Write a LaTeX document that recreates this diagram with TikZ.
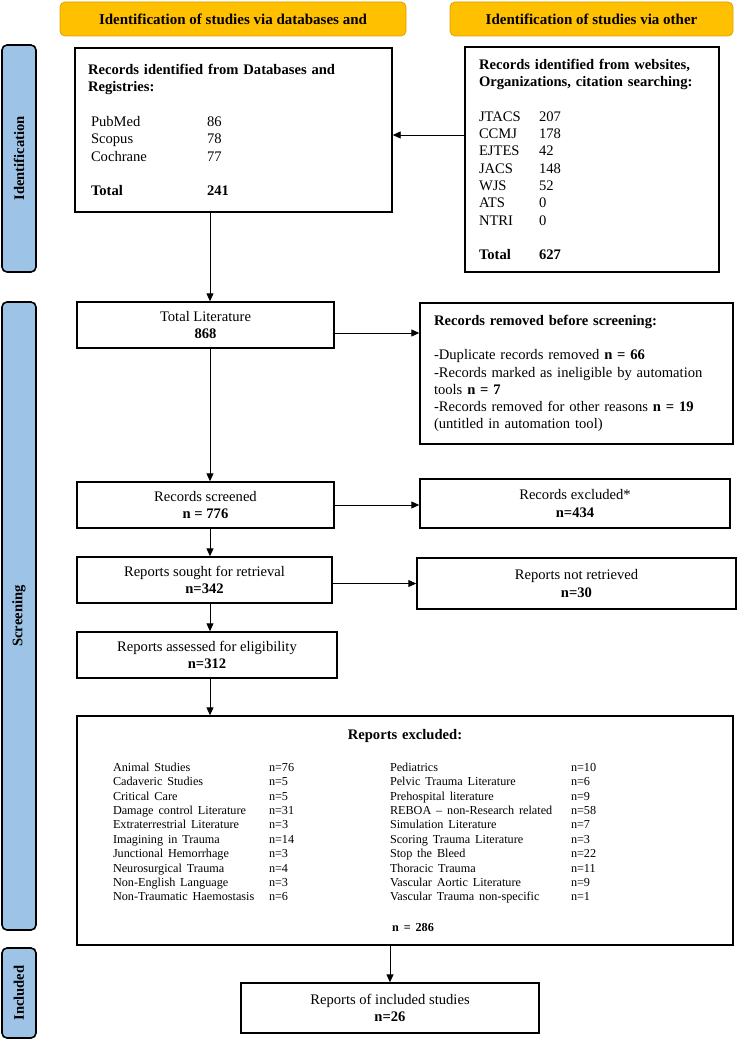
\documentclass[tikz,border=0pt]{standalone}
\usepackage{fontspec}
\setmainfont{Liberation Serif}
\usetikzlibrary{arrows.meta, positioning}
\definecolor{headgold}{HTML}{FFC000}
\definecolor{headedge}{HTML}{D9A300}
\definecolor{barblue}{HTML}{9DC3E6}
\newcommand{\boxfont}{\fontsize{14.6}{17.3}\selectfont}
\newcommand{\headfont}{\fontsize{15}{17.3}\selectfont}
\newcommand{\listfont}{\fontsize{12.2}{14.4}\selectfont}
\newcommand{\exrow}[4]{\makebox[156pt][l]{#1}\makebox[121pt][l]{#2}\makebox[181pt][l]{#3}#4}

\begin{document}
\begin{tikzpicture}[
        x=1pt, y=-1pt, >={Triangle[length=8pt,width=7pt]},
        stage/.style={draw=headedge, line width=0.8pt, fill=headgold, rounded corners=5pt,
                      font=\headfont\bfseries, inner sep=0pt},
        phase/.style={draw=black, line width=1.6pt, fill=barblue, rounded corners=5pt,
                      minimum width=34pt, inner sep=0pt},
        phasetext/.style={rotate=90, font=\boxfont\bfseries},
        flowbox/.style={draw, line width=1.4pt, font=\boxfont, align=center, inner sep=0pt},
        listbox/.style={draw, line width=1.4pt, font=\boxfont, align=left, inner ysep=0pt},
        link/.style={line width=0.9pt}
        ]
        \useasboundingbox (0,0) rectangle (738,1040);

        % headers
        \node[stage, minimum width=346pt, minimum height=34pt] (hdb)  at (233,19)   {Identification of studies via databases and};
        \node[stage, minimum width=283pt, minimum height=34pt] (hoth) at (591.5,19) {Identification of studies via other};

        % phase bars
        \node[phase, minimum height=227pt] (pid)  at (19,158.5) {};
        \node[phasetext] at (pid)  {Identification};
        \node[phase, minimum height=628pt] (pscr) at (19,616)   {};
        \node[phasetext] at (pscr) {Screening};
        \node[phase, minimum height=90pt]  (pinc) at (19,993)   {};
        \node[phasetext] at (pinc) {Included};

        % identification
        \node[listbox, minimum width=317pt, minimum height=164pt, inner xsep=13pt, text width=291pt] (dbrec) at (233.5,130)
            {\textbf{Records identified from Databases and}\\ \textbf{Registries:}\\[17.3pt]
             \hspace*{3pt}\makebox[116pt][l]{PubMed}86\\
             \hspace*{3pt}\makebox[116pt][l]{Scopus}78\\
             \hspace*{3pt}\makebox[116pt][l]{Cochrane}77\\[17.3pt]
             \hspace*{3pt}\makebox[116pt][l]{\textbf{Total}}\textbf{241}};
        \node[listbox, minimum width=254pt, minimum height=225pt, inner xsep=14pt, text width=226pt] (webrec) at (592,159.5)
            {\textbf{Records identified from websites,}\\ \textbf{Organizations, citation searching:}\\[17.3pt]
             \makebox[60pt][l]{JTACS}207\\
             \makebox[60pt][l]{CCMJ}178\\
             \makebox[60pt][l]{EJTES}42\\
             \makebox[60pt][l]{JACS}148\\
             \makebox[60pt][l]{WJS}52\\
             \makebox[60pt][l]{ATS}0\\
             \makebox[60pt][l]{NTRI}0\\[17.3pt]
             \makebox[60pt][l]{\textbf{Total}}\textbf{627}};

        % screening
        \node[flowbox, minimum width=257pt, minimum height=46pt] (totlit) at (205.5,325) {Total Literature\\ \textbf{868}};
        \node[listbox, minimum width=313pt, minimum height=141pt, inner xsep=14pt, text width=285pt] (removed) at (576.5,373.5)
            {\textbf{Records removed before screening:}\\[17.3pt]
             -Duplicate records removed \textbf{n = 66}\\
             -Records marked as ineligible by automation\\
             tools \textbf{n = 7}\\
             -Records removed for other reasons \textbf{n = 19}\\
             (untitled in automation tool)};
        \node[flowbox, minimum width=257pt, minimum height=46pt] (screened) at (205.5,505)   {Records screened\\ \textbf{n = 776}};
        \node[flowbox, minimum width=310pt, minimum height=49pt] (excl)     at (575,503.5)   {Records excluded*\\ \textbf{n=434}};
        \node[flowbox, minimum width=255pt, minimum height=46pt] (sought)   at (204.5,580)   {Reports sought for retrieval\\ \textbf{n=342}};
        \node[flowbox, minimum width=319pt, minimum height=51pt] (notret)   at (576.5,583.5) {Reports not retrieved\\ \textbf{n=30}};
        \node[flowbox, minimum width=260pt, minimum height=46pt] (assessed) at (207,655)     {Reports assessed for eligibility\\ \textbf{n=312}};
        \node[listbox, minimum width=656pt, minimum height=229pt, inner xsep=36pt, text width=584pt] (repexcl) at (405,830.5)
            {\makebox[584pt]{\textbf{Reports excluded:}}\\[17.6pt]
             \listfont
             \exrow{Animal Studies}{n=76}{Pediatrics}{n=10}\\
             \exrow{Cadaveric Studies}{n=5}{Pelvic Trauma Literature}{n=6}\\
             \exrow{Critical Care}{n=5}{Prehospital literature}{n=9}\\
             \exrow{Damage control Literature}{n=31}{REBOA -- non-Research related}{n=58}\\
             \exrow{Extraterrestrial Literature}{n=3}{Simulation Literature}{n=7}\\
             \exrow{Imagining in Trauma}{n=14}{Scoring Trauma Literature}{n=3}\\
             \exrow{Junctional Hemorrhage}{n=3}{Stop the Bleed}{n=22}\\
             \exrow{Neurosurgical Trauma}{n=4}{Thoracic Trauma}{n=11}\\
             \exrow{Non-English Language}{n=3}{Vascular Aortic Literature}{n=9}\\
             \exrow{Non-Traumatic Haemostasis}{n=6}{Vascular Trauma non-specific}{n=1}\\[13.6pt]
             \makebox[584pt]{\hspace{16pt}\textbf{n = 286}}};

        % included
        \node[flowbox, minimum width=298pt, minimum height=50pt] (incl) at (390,1008) {Reports of included studies\\ \textbf{n=26}};

        % connectors
        \coordinate (spine) at (210,0);
        \coordinate (lnk) at (0,135);
        \coordinate (rem) at (0,333);
        \draw[link, ->] (webrec.west |- lnk) -- (dbrec.east |- lnk);
        \draw[link, ->] (dbrec.south -| spine) -- (totlit.north -| spine);
        \draw[link, ->] (totlit.east |- rem) -- (removed.west |- rem);
        \draw[link, ->] (totlit.south -| spine) -- (screened.north -| spine);
        \draw[link, ->] (screened.east) -- (screened.east -| excl.west);
        \draw[link, ->] (screened.south -| spine) -- (sought.north -| spine);
        \draw[link, ->] (notret.west -| sought.east) -- (notret.west);
        \draw[link, ->] (sought.south -| spine) -- (assessed.north -| spine);
        \draw[link, ->] (assessed.south -| spine) -- (repexcl.north -| spine);
        \draw[link, ->] (incl.north |- repexcl.south) -- (incl.north);
      \end{tikzpicture}
\end{document}
